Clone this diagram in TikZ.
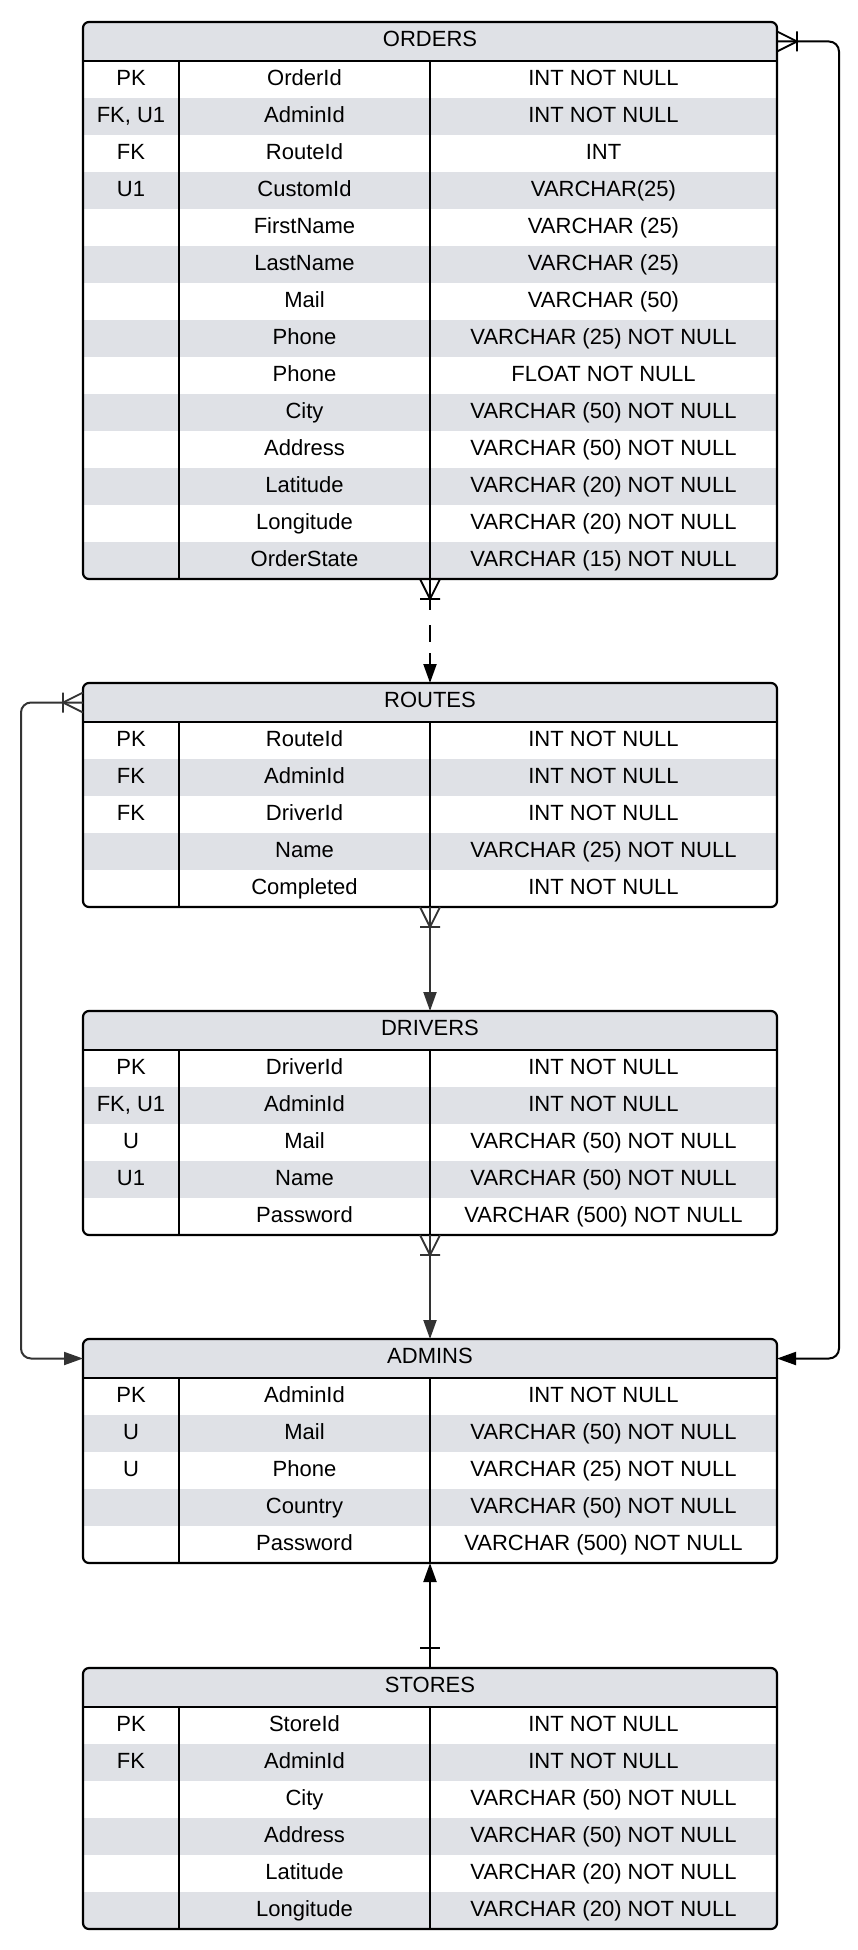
\documentclass[tikz,border=0pt]{standalone}
\usepackage{fontspec}
\setmainfont{Liberation Sans}
\usetikzlibrary{arrows.meta}

\definecolor{headgray}{HTML}{DFE1E6}
\definecolor{ink}{HTML}{333333}

\tikzset{
  tableframe/.style={draw=black, line width=2.2pt, rounded corners=6pt, minimum width=694pt,
    inner sep=0pt, outer sep=0pt},
  headbox/.style={fill=headgray, minimum width=694pt, minimum height=39pt, inner sep=0pt,
    outer sep=0pt},
  cell/.style={inner sep=0pt, anchor=base, font=\fontsize{22}{26}\selectfont},
  conn/.style={draw=ink, line width=2pt, -{Triangle[length=19pt,width=13pt]}},
  crowfoot/.pic={\draw[line width=1.8pt] (0,-10) -- (20,0) -- (0,10) (20,-10) -- (20,10);},
  onebar/.pic={\draw[line width=1.8pt] (20,-10) -- (20,10);}
}

% #1 name, #2 top edge, #3 number of rows, #4 title, #5 rows key/field/type
\newcommand{\ertable}[5]{
  \pgfmathsetmacro{\tht}{39+37*#3}
  \pgfmathsetmacro{\tbot}{#2+\tht}
  \begin{scope}
    \clip[rounded corners=6pt] (83,#2) rectangle (777,\tbot);
    \node[headbox, anchor=north] (#1-head) at (430,#2) {};
    \node[cell] (#1-title) at (430,#2+24.5) {#4};
    \foreach \kk/\fd/\ty [count=\i] in {#5} {
      \pgfmathsetmacro{\ry}{#2+39+37*(\i-1)}
      \ifodd\i\relax\else \fill[headgray] (83,\ry) rectangle (777,\ry+37); \fi
      \node[cell] (#1-k\i) at (131,\ry+24.5) {\kk};
      \node[cell] (#1-f\i) at (304.5,\ry+24.5) {\fd};
      \node[cell] (#1-t\i) at (603.5,\ry+24.5) {\ty};
    }
  \end{scope}
  \draw[line width=2pt] (83,#2+39) -- (777,#2+39)
    (179,#2+39) -- (179,\tbot) (430,#2+39) -- (430,\tbot);
  \node[tableframe, minimum height=\tht pt, anchor=north] (#1) at (430,#2) {};
}

\begin{document}
\begin{tikzpicture}[x=1pt, y=-1pt]
  \useasboundingbox (0,0) rectangle (858,1950);

  \ertable{orders}{22}{14}{ORDERS}{PK/OrderId/INT NOT NULL,
    {FK, U1}/AdminId/INT NOT NULL,
    FK/RouteId/INT,
    U1/CustomId/VARCHAR(25),
    /FirstName/VARCHAR (25),
    /LastName/VARCHAR (25),
    /Mail/VARCHAR (50),
    /Phone/VARCHAR (25) NOT NULL,
    /Phone/FLOAT NOT NULL,
    /City/VARCHAR (50) NOT NULL,
    /Address/VARCHAR (50) NOT NULL,
    /Latitude/VARCHAR (20) NOT NULL,
    /Longitude/VARCHAR (20) NOT NULL,
    /OrderState/VARCHAR (15) NOT NULL}

  \ertable{routes}{683}{5}{ROUTES}{PK/RouteId/INT NOT NULL,
    FK/AdminId/INT NOT NULL,
    FK/DriverId/INT NOT NULL,
    /Name/VARCHAR (25) NOT NULL,
    /Completed/INT NOT NULL}

  \ertable{drivers}{1011}{5}{DRIVERS}{PK/DriverId/INT NOT NULL,
    {FK, U1}/AdminId/INT NOT NULL,
    U/Mail/VARCHAR (50) NOT NULL,
    U1/Name/VARCHAR (50) NOT NULL,
    /Password/VARCHAR (500) NOT NULL}

  \ertable{admins}{1339}{5}{ADMINS}{PK/AdminId/INT NOT NULL,
    U/Mail/VARCHAR (50) NOT NULL,
    U/Phone/VARCHAR (25) NOT NULL,
    /Country/VARCHAR (50) NOT NULL,
    /Password/VARCHAR (500) NOT NULL}

  \ertable{stores}{1668}{6}{STORES}{PK/StoreId/INT NOT NULL,
    FK/AdminId/INT NOT NULL,
    /City/VARCHAR (50) NOT NULL,
    /Address/VARCHAR (50) NOT NULL,
    /Latitude/VARCHAR (20) NOT NULL,
    /Longitude/VARCHAR (20) NOT NULL}

  % relations
  \draw[conn, draw=black, dash pattern=on 31pt off 15pt on 17pt off 11pt on 60pt off 0pt]
    (orders.south) -- (routes.north);
  \pic[black, rotate=-90] at (orders.south) {crowfoot};
  \draw[conn] (routes.south) -- (drivers.north);
  \pic[ink, rotate=-90] at (routes.south) {crowfoot};
  \draw[conn] (drivers.south) -- (admins.north);
  \pic[ink, rotate=-90] at (drivers.south) {crowfoot};
  \draw[conn, draw=black] (stores.north) -- (admins.south);
  \pic[black, rotate=90] at (stores.north) {onebar};

  \draw[conn, draw=black, rounded corners=10pt] (orders-head.east) -- ++(62,0) |- (admins-head.east);
  \pic[black] at (orders-head.east) {crowfoot};
  \draw[conn, rounded corners=10pt] (routes-head.west) -- ++(-62,0) |- (admins-head.west);
  \pic[ink, rotate=180] at (routes-head.west) {crowfoot};
\end{tikzpicture}
\end{document}
